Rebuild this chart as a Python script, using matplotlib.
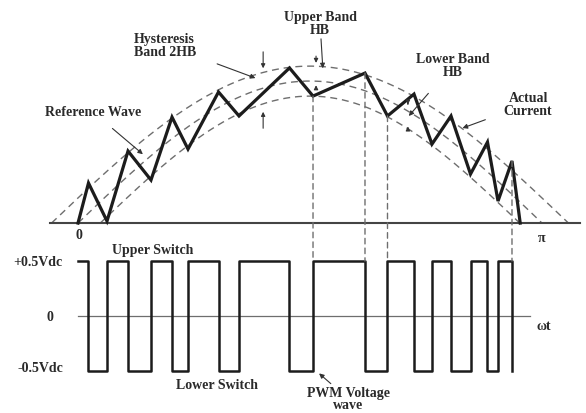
import numpy as np
import matplotlib
matplotlib.use("Agg")
import matplotlib.pyplot as plt
from matplotlib.patches import ConnectionPatch

# switching instants, in units of pi (omega*t / pi)
SWITCH_TIMES = [0.0226, 0.0625, 0.1078, 0.1573, 0.2026, 0.2371, 0.3028, 0.3470,
                0.4558, 0.5065, 0.6185, 0.6670, 0.7241, 0.7629, 0.8039, 0.8459,
                0.8825, 0.9052, 0.9353]
# actual current at each switching instant (reference peak = 1)
CURRENT_AT_SWITCH = [0.282, 0.014, 0.507, 0.303, 0.746, 0.521, 0.923, 0.754,
                     1.092, 0.894, 1.056, 0.754, 0.908, 0.556, 0.754, 0.345,
                     0.570, 0.155, 0.437]
CURRENT_END = 0.953
# reference wave and the two hysteresis bands: (peak, start, end)
BAND_NAMES = ["upper", "reference", "lower"]
BAND_PEAK = [1.105, 1.0, 0.894]
BAND_START = [-0.057, 0.0, 0.048]
BAND_END = [1.057, 1.0, 0.952]
# PWM voltage levels (in Vdc)
V_HIGH = 0.5
V_LOW = -0.5
# switching instants that get a dashed guide line
GUIDE_INDEX = [9, 10, 11, 18]

INK = "#1c1c1c"
GREY = "#6e6e6e"
FONT = dict(family="Liberation Serif", weight="bold", fontsize=10, color="#2a2a2a",
            linespacing=1.0)


def draw_current(ax):
    for peak, a, b in zip(BAND_PEAK, BAND_START, BAND_END):
        x = np.linspace(a, b, 200)
        ax.plot(x, peak * np.sin(np.pi * (x - a) / (b - a)), color=GREY,
                lw=1.0, dashes=(5, 3.5))
    ax.plot([-0.06, 1.082], [0, 0], color="#444444", lw=1.5)
    xs = [0.0] + SWITCH_TIMES + [CURRENT_END]
    ys = [0.0] + CURRENT_AT_SWITCH + [0.0]
    ax.plot(xs, ys, color=INK, lw=2.3, solid_joinstyle="miter")

    ax.text(0.002, -0.077, "0", ha="center", va="center", **FONT)
    ax.text(1.0, -0.099, "π", ha="center", va="center", **FONT)

    arrow = dict(arrowstyle="-|>", color="#333333", lw=0.8, mutation_scale=7)
    ax.annotate("Hysteresis\nBand 2HB", xy=(0.388, 1.014), xytext=(0.1875, 1.257),
                ha="center", va="center", multialignment="left",
                arrowprops=dict(arrow, shrinkA=14), **FONT)
    ax.annotate("Reference Wave", xy=(0.1444, 0.472), xytext=(0.0323, 0.782),
                ha="center", va="center", arrowprops=dict(arrow, shrinkA=8), **FONT)
    ax.annotate("Upper Band\nHB", xy=(0.528, 1.070), xytext=(0.5216, 1.408),
                ha="center", va="center", arrowprops=dict(arrow, shrinkA=0),
                **FONT)
    ax.annotate("Lower Band\nHB", xy=(0.709, 0.739), xytext=(0.808, 1.113),
                ha="center", va="center", arrowprops=dict(arrow, shrinkA=12), **FONT)
    ax.annotate("Actual\nCurrent", xy=(0.823, 0.662), xytext=(0.970, 0.838),
                ha="center", va="center", arrowprops=dict(arrow, shrinkA=12), **FONT)

    small = dict(arrowstyle="-|>", color="#333333", lw=0.8, mutation_scale=6)
    for x, y0, y1 in [(0.399, 1.225, 1.070), (0.399, 0.648, 0.803),
                      (0.513, 1.195, 1.108), (0.513, 0.930, 0.990),
                      (0.711, 0.860, 0.815), (0.711, 0.640, 0.700)]:
        ax.annotate("", xy=(x, y1), xytext=(x, y0), arrowprops=small)


def draw_pwm(ax):
    ax.plot([0, 0.974], [0, 0], color=GREY, lw=0.9)
    xs = [0.0] + SWITCH_TIMES
    ys = [V_HIGH if i % 2 == 0 else V_LOW for i in range(len(xs))]
    ax.plot(xs, ys, color=INK, lw=1.8, drawstyle="steps-post")

    ax.text(-0.0862, 0.5, "+0.5Vdc", ha="center", va="center", **FONT)
    ax.text(-0.0603, 0.0, "0", ha="center", va="center", **FONT)
    ax.text(-0.082, -0.47, "-0.5Vdc", ha="center", va="center", **FONT)
    ax.text(0.1616, 0.609, "Upper Switch", ha="center", va="center", **FONT)
    ax.text(0.2996, -0.627, "Lower Switch", ha="center", va="center", **FONT)
    ax.text(1.004, -0.09, "ωt", ha="center", va="center", **FONT)
    ax.annotate("PWM Voltage\nwave", xy=(0.515, -0.505), xytext=(0.582, -0.64),
                ha="center", va="top",
                arrowprops=dict(arrowstyle="-|>", color="#333333", lw=0.8,
                                mutation_scale=7, shrinkA=0),
                **dict(FONT, linespacing=0.85))


def plot_hysteresis():
    fig = plt.figure(figsize=(5.86, 4.14), dpi=100)
    ax_i = fig.add_axes([0, 0.408, 1, 0.592])
    ax_v = fig.add_axes([0, 0, 1, 0.408])
    for ax in (ax_i, ax_v):
        ax.set_xlim(-0.1681, 1.0948)
        ax.axis("off")
    ax_i.set_ylim(-0.1479, 1.5775)
    ax_v.set_ylim(-0.8818, 0.6545)

    draw_current(ax_i)
    draw_pwm(ax_v)

    for k in GUIDE_INDEX:
        x = SWITCH_TIMES[k]
        con = ConnectionPatch(xyA=(x, CURRENT_AT_SWITCH[k]), coordsA=ax_i.transData,
                              xyB=(x, V_HIGH), coordsB=ax_v.transData,
                              color=GREY, lw=1.0, linestyle=(0, (4, 3)))
        fig.add_artist(con)

    fig.savefig("out.png", dpi=100)


if __name__ == "__main__":
    plot_hysteresis()
